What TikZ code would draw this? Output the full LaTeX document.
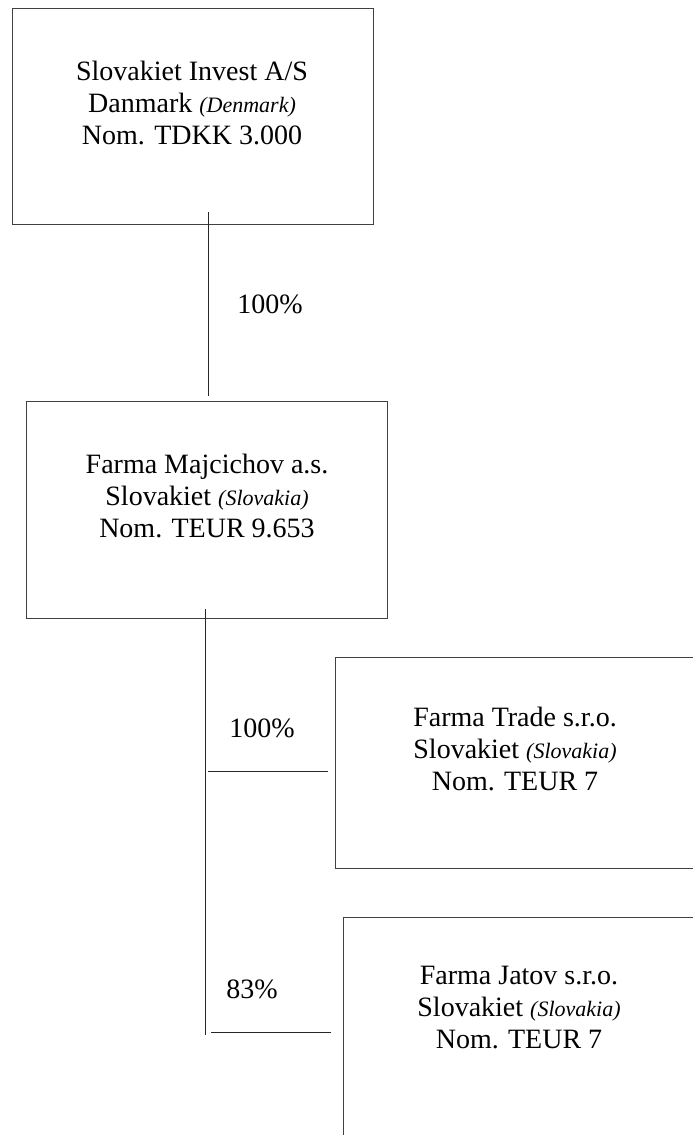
\documentclass[tikz,border=0pt]{standalone}
\usepackage{fontspec}
\setmainfont{Liberation Serif}
\begin{document}
\begin{tikzpicture}[x=1pt,y=-1pt,
  box/.style={draw=black!75,line width=0.9pt,rectangle,anchor=north west,inner sep=0pt},
  conn/.style={draw=black!85,line width=0.9pt},
  txt/.style={align=center,inner sep=0pt,font=\fontsize{28}{32}\selectfont},
  lbl/.style={inner sep=0pt,font=\fontsize{28}{32}\selectfont}]
\useasboundingbox (0,0) rectangle (693,1135);
\clip (0,0) rectangle (693,1135);
\newcommand{\cty}[1]{{\fontsize{22}{32}\selectfont\itshape(#1)}}
% boxes
\node[box,minimum width=361pt,minimum height=216pt] (b1) at (12,8) {};
\node[box,minimum width=361pt,minimum height=217pt] (b2) at (26,401) {};
\node[box,minimum width=400pt,minimum height=211pt] (b3) at (335,657) {};
\node[box,minimum width=400pt,minimum height=260pt] (b4) at (343,917) {};
% texts
\node[txt] (t1) at (192,103) {Slovakiet Invest A/S\\Danmark \cty{Denmark}\\Nom. TDKK 3.000};
\node[txt] (t2) at (207,496) {Farma Majcichov a.s.\\Slovakiet \cty{Slovakia}\\Nom. TEUR 9.653};
\node[txt] (t3) at (515,749) {Farma Trade s.r.o.\\Slovakiet \cty{Slovakia}\\Nom. TEUR 7};
\node[txt] (t4) at (519,1008) {Farma Jatov s.r.o.\\Slovakiet \cty{Slovakia}\\Nom. TEUR 7};
% connectors
\coordinate (c1a) at (208.5,212);
\coordinate (c1b) at (208.5,396);
\coordinate (c2a) at (205.5,609);
\coordinate (c2b) at (205.5,1035);
\coordinate (h1a) at (208,771);
\coordinate (h1b) at (328,771);
\coordinate (h2a) at (211,1032);
\coordinate (h2b) at (331,1032);
\draw[conn] (c1a) -- (c1b);
\draw[conn] (c2a) -- (c2b);
\draw[conn] (h1a) -- (h1b);
\draw[conn] (h2a) -- (h2b);
% labels
\node[lbl] (l1) at (270,304) {100\%};
\node[lbl] (l2) at (262,728) {100\%};
\node[lbl] (l3) at (252,989) {83\%};
\end{tikzpicture}
\end{document}
